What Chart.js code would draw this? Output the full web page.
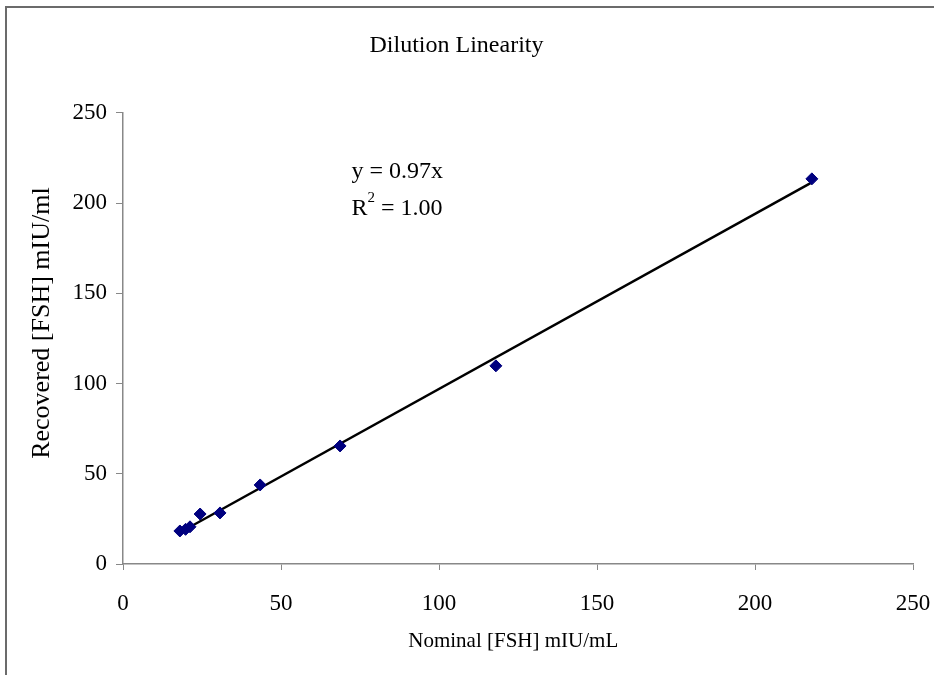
<!DOCTYPE html>
<html>
<head>
<meta charset="utf-8">
<script src="https://cdn.jsdelivr.net/npm/chart.js@4.4.1/dist/chart.umd.min.js"></script>
<style>
  html, body { margin: 0; padding: 0; background: #fff; }
  #wrap { position: relative; width: 934px; height: 675px; }
  #frame {
    position: absolute; left: 5px; top: 6px; right: 0; bottom: 0;
    border-top: 2px solid #6b6b6b; border-left: 2px solid #6b6b6b;
    pointer-events: none;
  }
  canvas { position: absolute; left: 0; top: 0; }
</style>
</head>
<body>
<div id="wrap">
  <canvas id="main-chart" width="934" height="675"></canvas>
  <div id="frame"></div>
</div>
<script>
// nominal vs recovered FSH, mIU/mL
const nominal   = [18.0, 19.8, 21.2, 24.4, 30.7, 43.4, 68.7, 118.0, 218.0];
const recovered = [18.3, 19.2, 20.6, 27.7, 28.3, 43.8, 65.4, 109.8, 213.4];

const slope = 0.97;
const fitLabel = 'y = 0.97x';
const r2Value = '1.00';
const axisTicks = [0, 50, 100, 150, 200, 250];
const yTitle = 'Recovered [FSH] mIU/ml';
const xTitle = 'Nominal [FSH] mIU/mL';

const serif = "'Liberation Serif', 'Times New Roman', serif";

const points = nominal.map((x, i) => ({ x, y: recovered[i] }));
const xMin = Math.min(...nominal);
const xMax = Math.max(...nominal);
const fitLine = [
  { x: xMin, y: slope * xMin },
  { x: xMax, y: slope * xMax },
];

// Equation, R² and both axis titles, drawn after the datasets
const annotationPlugin = {
  id: 'annotations',
  afterDatasetsDraw(chart) {
    const { ctx, scales: { x, y } } = chart;
    const left = x.getPixelForValue(72.3);
    ctx.save();
    ctx.fillStyle = '#000';
    ctx.textBaseline = 'middle';
    ctx.textAlign = 'left';
    ctx.font = `24px ${serif}`;
    ctx.fillText(fitLabel, left, y.getPixelForValue(217.5));

    // R² with a raised small 2
    const ry = y.getPixelForValue(197);
    const wR = ctx.measureText('R').width;
    ctx.fillText('R', left, ry);
    ctx.font = `15px ${serif}`;
    const w2 = ctx.measureText('2').width;
    ctx.fillText('2', left + wR, ry - 10);
    ctx.font = `24px ${serif}`;
    ctx.fillText(' = ' + r2Value, left + wR + w2, ry);

    // x axis title, slightly left of the axis middle
    ctx.textAlign = 'center';
    ctx.font = `21px ${serif}`;
    ctx.fillText(xTitle, x.getPixelForValue(123.5), 641);

    // y axis title sits a little above the middle of the axis
    ctx.translate(42, y.getPixelForValue(133.5));
    ctx.rotate(-Math.PI / 2);
    ctx.font = `26px ${serif}`;
    ctx.fillText(yTitle, 0, 0);
    ctx.restore();
  }
};

const ctx = document.getElementById('main-chart').getContext('2d');

new Chart(ctx, {
  type: 'scatter',
  data: {
    datasets: [
      {
        label: 'Recovered',
        data: points,
        pointStyle: 'rectRot',
        pointRadius: 6,
        pointHoverRadius: 6,
        backgroundColor: '#00007f',
        borderColor: '#00007f',
        borderWidth: 1,
        order: 1,
      },
      {
        label: 'Linear fit',
        type: 'line',
        data: fitLine,
        borderColor: '#000',
        borderWidth: 2.5,
        pointRadius: 0,
        fill: false,
        order: 2,
      },
    ],
  },
  options: {
    responsive: false,
    animation: false,
    layout: { padding: { left: 0, right: 21, top: 0, bottom: 0 } },
    plugins: {
      legend: { display: false },
      tooltip: { enabled: false },
      title: {
        display: true,
        text: 'Dilution Linearity',
        color: '#000',
        font: { family: serif, size: 24, weight: 'normal' },
        padding: { top: 31, bottom: 53 },
      },
    },
    scales: {
      x: {
        type: 'linear',
        min: 0,
        max: 250,
        afterBuildTicks: s => { s.ticks = axisTicks.map(v => ({ value: v })); },
        afterFit: s => {
          s.height = 111;
          s.paddingLeft = 0;
          s.paddingRight = 0;
        },
        grid: { drawOnChartArea: false, drawTicks: true, tickLength: 6, color: '#888' },
        border: { color: '#888', width: 1.5 },
        ticks: { color: '#000', font: { family: serif, size: 23 }, padding: 20, maxRotation: 0 },
      },
      y: {
        type: 'linear',
        min: 0,
        max: 250,
        afterBuildTicks: s => { s.ticks = axisTicks.map(v => ({ value: v })); },
        afterFit: s => { s.width = 123; },
        grid: { drawOnChartArea: false, drawTicks: true, tickLength: 7, color: '#888' },
        border: { color: '#888', width: 1.5 },
        ticks: { color: '#000', font: { family: serif, size: 23 }, padding: 9 },
      },
    },
  },
  plugins: [annotationPlugin],
});
</script>
</body>
</html>
